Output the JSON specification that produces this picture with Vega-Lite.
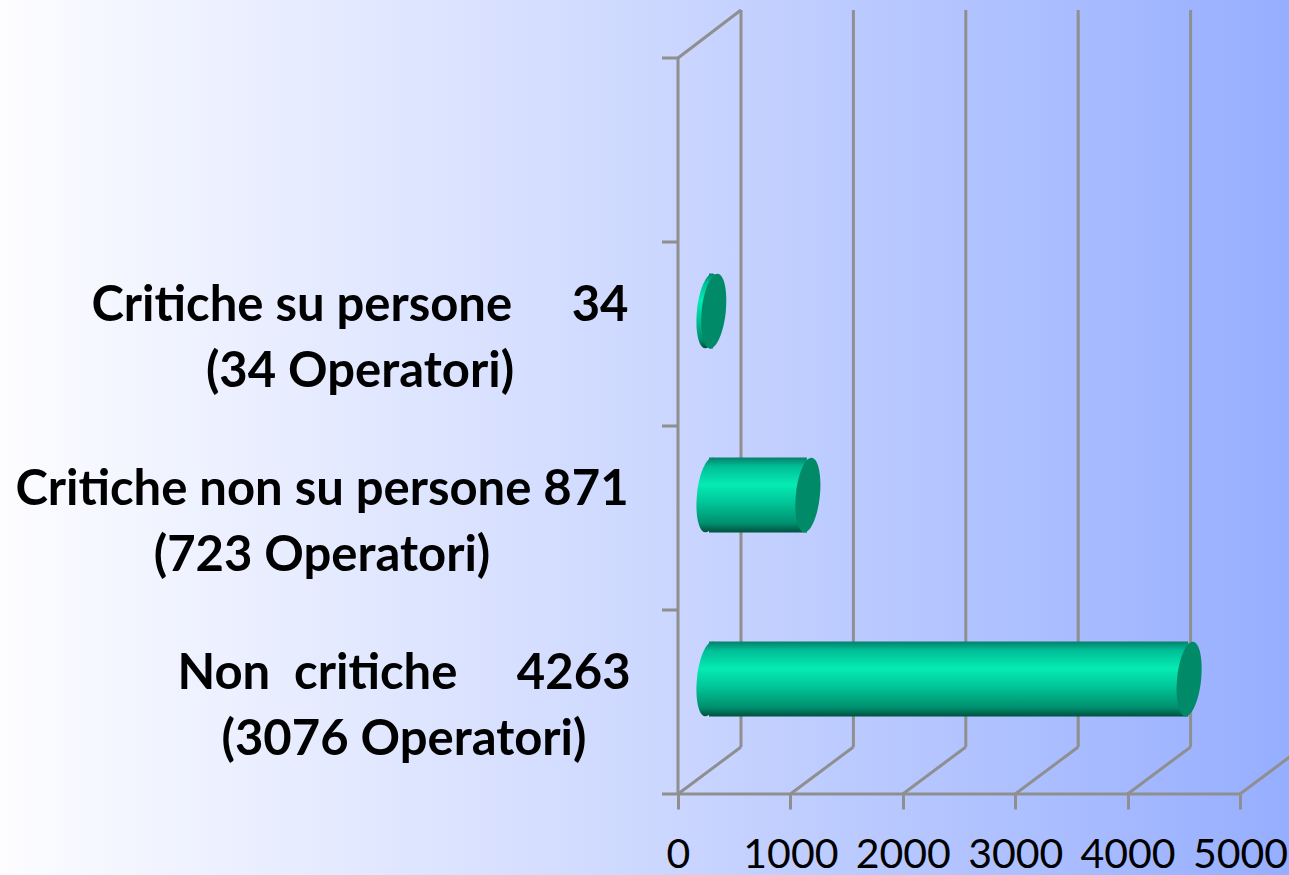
{
  "$schema": "https://vega.github.io/schema/vega-lite/v6.json",
  "width": 1289,
  "height": 875,
  "padding": 0,
  "autosize": {"type": "none"},
  "background": "#ffffff",
  "view": {"stroke": null, "fill": {"gradient": "linear", "x1": 0, "y1": 0, "x2": 1, "y2": 0, "stops": [{"offset": 0, "color": "#FDFDFF"}, {"offset": 0.5, "color": "#CDD8FF"}, {"offset": 1, "color": "#96AEFF"}]}},
  "datasets": {
    "bars": [
      {"categoria": "Non critiche", "valore": 4263, "etichetta": ["Non\u00a0\u00a0critiche\u00a0\u00a0\u00a0\u00a0\u00a04263", "(3076 Operatori)"]},
      {"categoria": "Critiche non su persone", "valore": 871, "etichetta": ["Critiche non su persone 871", "(723 Operatori)"]},
      {"categoria": "Critiche su persone", "valore": 34, "etichetta": ["Critiche su persone\u00a0\u00a0\u00a0\u00a0\u00a034", "(34 Operatori)"]}
    ],
    "scala": [{"v": 0}, {"v": 1000}, {"v": 2000}, {"v": 3000}, {"v": 4000}, {"v": 5000}]
  },
  "data": {"name": "bars"},
  "encoding": {
    "y": {
      "field": "categoria", "type": "nominal",
      "scale": {"domain": ["Non critiche", "Critiche non su persone", "Critiche su persone", "a"], "range": [794, 58], "paddingInner": 0, "paddingOuter": 0},
      "axis": null
    }
  },
  "layer": [
    {
      "data": {"name": "scala"},
      "mark": {"type": "rule", "color": "#8F8F8F", "strokeWidth": 3, "xOffset": 63, "x2Offset": 63, "yOffset": -47, "y2Offset": -48},
      "encoding": {
        "x": {
          "field": "v", "type": "quantitative",
          "scale": {"domain": [-6032, 5436], "nice": false, "zero": false},
          "axis": {"values": [0, 1000, 2000, 3000, 4000, 5000], "orient": "bottom", "offset": -81, "title": null, "grid": false, "domain": false, "tickColor": "#8F8F8F", "tickWidth": 3, "tickSize": 15, "labelFont": "Lato", "labelFontSize": 41, "labelColor": "#000000", "labelPadding": 46, "labelBaseline": "middle", "labelFlush": false, "labelOverlap": false, "format": "d"}
        },
        "y": {"datum": "Non critiche", "bandPosition": 1, "type": "nominal"},
        "y2": {"datum": "a", "bandPosition": 0}
      }
    },
    {
      "data": {"name": "scala"},
      "mark": {"type": "rule", "color": "#8F8F8F", "strokeWidth": 3, "x2Offset": 63, "y2Offset": -47},
      "encoding": {
        "x": {"field": "v", "type": "quantitative"},
        "x2": {"field": "v"},
        "y": {"datum": "Non critiche", "bandPosition": 1, "type": "nominal"},
        "y2": {"datum": "Non critiche", "bandPosition": 1}
      }
    },
    {
      "data": {"values": [{"v": 0}]},
      "mark": {"type": "rule", "color": "#8F8F8F", "strokeWidth": 3, "x2Offset": 63, "y2Offset": -48},
      "encoding": {
        "x": {"field": "v", "type": "quantitative"},
        "x2": {"field": "v"},
        "y": {"datum": "a", "bandPosition": 0, "type": "nominal"},
        "y2": {"datum": "a", "bandPosition": 0}
      }
    },
    {
      "data": {"values": [{"da": 0, "a": 5000}]},
      "mark": {"type": "rule", "color": "#8F8F8F", "strokeWidth": 3},
      "encoding": {
        "x": {"field": "da", "type": "quantitative"},
        "x2": {"field": "a"},
        "y": {"datum": "Non critiche", "bandPosition": 1, "type": "nominal"}
      }
    },
    {
      "data": {"values": [{"v": 0}]},
      "mark": {"type": "rule", "color": "#8F8F8F", "strokeWidth": 3},
      "encoding": {
        "x": {"field": "v", "type": "quantitative"},
        "y": {"datum": "Non critiche", "bandPosition": 1, "type": "nominal"},
        "y2": {"datum": "a", "bandPosition": 0}
      }
    },
    {
      "data": {"values": [{"c": "Non critiche"}, {"c": "Critiche non su persone"}, {"c": "Critiche su persone"}, {"c": "a"}]},
      "mark": {"type": "rule", "color": "#8F8F8F", "strokeWidth": 3, "xOffset": -16, "x2Offset": 0},
      "encoding": {
        "x": {"datum": 0, "type": "quantitative"},
        "x2": {"datum": 0},
        "y": {"field": "c", "type": "nominal", "bandPosition": 0}
      }
    },
    {
      "data": {"values": [{"c": "Non critiche"}]},
      "mark": {"type": "rule", "color": "#8F8F8F", "strokeWidth": 3, "xOffset": -16, "x2Offset": 0},
      "encoding": {
        "x": {"datum": 0, "type": "quantitative"},
        "x2": {"datum": 0},
        "y": {"field": "c", "type": "nominal", "bandPosition": 1}
      }
    },
    {
      "mark": {"type": "bar", "size": 75, "orient": "horizontal", "xOffset": 31, "x2Offset": 31, "yOffset": -23, "fill": {"gradient": "linear", "x1": 0, "y1": 0, "x2": 0, "y2": 1, "stops": [{"offset": 0, "color": "#06806A"}, {"offset": 0.12, "color": "#00BE97"}, {"offset": 0.36, "color": "#05EBB4"}, {"offset": 0.6, "color": "#00C698"}, {"offset": 0.88, "color": "#008F6E"}, {"offset": 1, "color": "#00503F"}]}},
      "encoding": {
        "x": {"field": "valore", "type": "quantitative"},
        "x2": {"datum": 0}
      }
    },
    {
      "mark": {"type": "point", "filled": true, "opacity": 1, "xOffset": 31, "yOffset": -23, "size": 5625, "shape": "M0.105,-0.995 A0.32,1,6,1,1,-0.105,0.995 A0.32,1,6,1,1,0.105,-0.995 Z", "fill": {"gradient": "linear", "x1": 0, "y1": 0, "x2": 0, "y2": 1, "stops": [{"offset": 0, "color": "#06806A"}, {"offset": 0.12, "color": "#00BE97"}, {"offset": 0.36, "color": "#05EBB4"}, {"offset": 0.6, "color": "#00C698"}, {"offset": 0.88, "color": "#008F6E"}, {"offset": 1, "color": "#00503F"}]}},
      "encoding": {"x": {"datum": 0, "type": "quantitative"}}
    },
    {
      "mark": {"type": "point", "filled": true, "opacity": 1, "xOffset": 32, "yOffset": -23, "size": 5625, "shape": "M0.105,-0.995 A0.32,1,6,1,1,-0.105,0.995 A0.32,1,6,1,1,0.105,-0.995 Z", "fill": "#008A68"},
      "encoding": {"x": {"field": "valore", "type": "quantitative"}}
    },
    {
      "transform": [{"filter": "datum.valore == 4263"}],
      "mark": {"type": "text", "font": "Lato", "fontWeight": "bold", "fontSize": 49, "lineHeight": 66, "align": "center", "baseline": "middle", "dx": -274, "dy": -28, "color": "#000000"},
      "encoding": {"x": {"datum": 0, "type": "quantitative"}, "text": {"field": "etichetta"}}
    },
    {
      "transform": [{"filter": "datum.valore == 871"}],
      "mark": {"type": "text", "font": "Lato", "fontWeight": "bold", "fontSize": 49, "lineHeight": 66, "align": "center", "baseline": "middle", "dx": -356, "dy": -28, "color": "#000000"},
      "encoding": {"x": {"datum": 0, "type": "quantitative"}, "text": {"field": "etichetta"}}
    },
    {
      "transform": [{"filter": "datum.valore == 34"}],
      "mark": {"type": "text", "font": "Lato", "fontWeight": "bold", "fontSize": 49, "lineHeight": 66, "align": "center", "baseline": "middle", "dx": -318, "dy": -28, "color": "#000000"},
      "encoding": {"x": {"datum": 0, "type": "quantitative"}, "text": {"field": "etichetta"}}
    }
  ]
}
